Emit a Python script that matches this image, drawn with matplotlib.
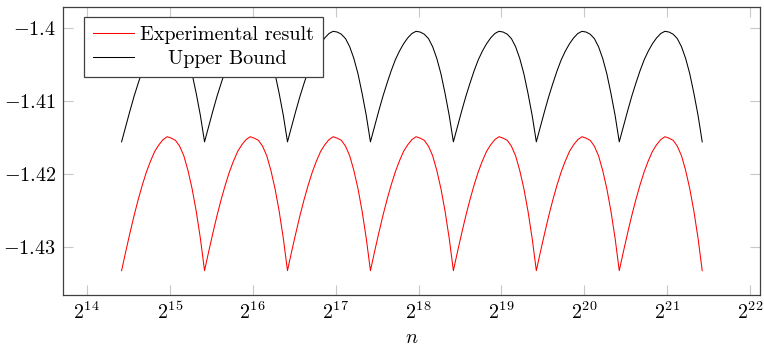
import matplotlib.pyplot as plt
import numpy as np

plt.rcParams['mathtext.fontset'] = 'cm'
plt.rcParams['font.family'] = 'serif'
plt.rcParams['font.serif'] = ['cmr10']
plt.rcParams['axes.formatter.use_mathtext'] = True

# each arc starts at 2^(start) and runs one octave to the next cusp
arc_starts = [14.42, 15.42, 16.42, 17.42, 18.42, 19.42, 20.42]
arc_offsets = [0.0, 0.05, 0.1, 0.15, 0.2, 0.25, 0.3, 0.35, 0.4, 0.45, 0.5,
               0.55, 0.6, 0.65, 0.7, 0.75, 0.8, 0.85, 0.9, 0.95, 1.0]

# values along one arc (same in every octave)
experimental_arc = [-1.4332, -1.4306, -1.4281, -1.4257, -1.4235, -1.4215, -1.4197,
                    -1.4182, -1.4169, -1.4160, -1.4153, -1.4149, -1.4151, -1.4154,
                    -1.4162, -1.4175, -1.4195, -1.4220, -1.4251, -1.4288, -1.4332]
upper_bound_arc = [-1.4156, -1.4135, -1.4114, -1.4094, -1.4076, -1.4059, -1.4044,
                   -1.4032, -1.4022, -1.4014, -1.4008, -1.4005, -1.4006, -1.4009,
                   -1.4015, -1.4026, -1.4042, -1.4063, -1.4090, -1.4120, -1.4156]

x_ticks = [14, 15, 16, 17, 18, 19, 20, 21, 22]
y_ticks = [-1.4, -1.41, -1.42, -1.43]

# chain the arcs together
n_vals, exp_vals, ub_vals = [], [], []
for k, s in enumerate(arc_starts):
    first = 0 if k == 0 else 1
    for u, e, b in zip(arc_offsets[first:], experimental_arc[first:], upper_bound_arc[first:]):
        n_vals.append(2 ** (s + u))
        exp_vals.append(e)
        ub_vals.append(b)

fs = 14.5

fig = plt.figure(figsize=(7.64, 3.47), dpi=100)
ax = fig.add_axes([0.0825, 0.15, 0.9123, 0.83])

ax.plot(n_vals, exp_vals, color='#ff0000', lw=0.75, label='Experimental result')
ax.plot(n_vals, ub_vals, color='black', lw=0.75, label='Upper Bound')

ax.set_xscale('log', base=2)
ax.set_xlim(2 ** 13.714, 2 ** 22.117)
ax.set_ylim(-1.43652, -1.39717)

ax.set_xticks([2 ** p for p in x_ticks])
ax.set_xticklabels(['$2^{%d}$' % p for p in x_ticks])
ax.xaxis.set_minor_locator(plt.NullLocator())
ax.set_yticks(y_ticks)
ax.set_yticklabels(['$%g$' % v for v in y_ticks])

ax.tick_params(direction='in', length=7, width=0.8, color='#c8c8c8',
               top=True, right=True, labelsize=fs, pad=5)
for sp in ax.spines.values():
    sp.set_color('#404040')
    sp.set_linewidth(0.9)

ax.set_xlabel('$n$', fontsize=fs, labelpad=4)

leg = ax.legend(loc='upper left', bbox_to_anchor=(0.0306, 0.9655), borderaxespad=0,
                fontsize=fs, fancybox=False, framealpha=1, edgecolor='#404040',
                handlelength=2.0, handletextpad=0.33, borderpad=0.45, labelspacing=0.3)
leg.get_frame().set_linewidth(0.9)

# center the shorter legend entry under the longer one
fig.canvas.draw()
texts = leg.get_texts()
widths = [t.get_window_extent().width for t in texts]
wmax = max(widths)
for t, w in zip(texts, widths):
    t.set_position(((wmax - w) / 2, 0))

fig.savefig('out.png', dpi=100)
